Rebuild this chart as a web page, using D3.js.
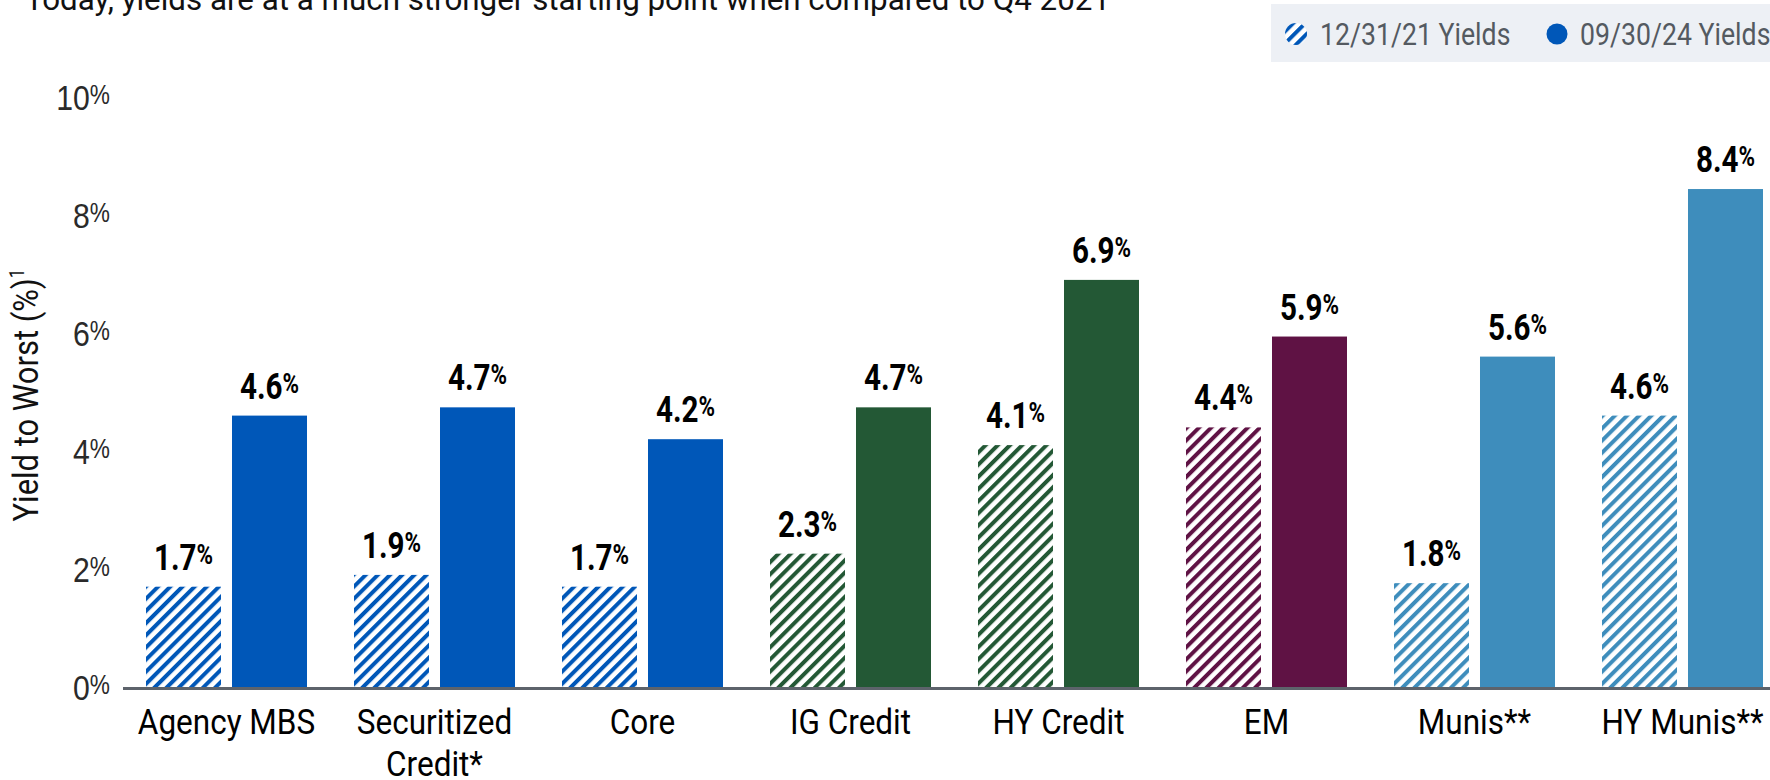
<!DOCTYPE html>
<html>
<head>
<meta charset="utf-8">
<script src="https://cdn.jsdelivr.net/npm/d3@7"></script>
<style>
  html, body { margin: 0; padding: 0; background: #ffffff; }
  svg { display: block; font-family: Roboto, "Noto Sans", sans-serif; }
</style>
</head>
<body>
<svg id="chart" width="1770" height="780"></svg>
<script>
// Yield to worst by sector, end of 2021 vs. end of Q3 2024
const categories = ["Agency MBS", "Securitized Credit*", "Core", "IG Credit", "HY Credit", "EM", "Munis**", "HY Munis**"];
const categoryLines = [["Agency MBS"], ["Securitized", "Credit*"], ["Core"], ["IG Credit"], ["HY Credit"], ["EM"], ["Munis**"], ["HY Munis**"]];
const yields2021 = [1.7, 1.9, 1.7, 2.26, 4.1, 4.4, 1.76, 4.6];
const yields2024 = [4.6, 4.74, 4.2, 4.74, 6.9, 5.94, 5.6, 8.44];
const sectorColors = ["#0057b8", "#0057b8", "#0057b8", "#235835", "#235835", "#5f1244", "#3e8dbc", "#3e8dbc"];
const seriesKeys = ["2021", "2024"];
const legendLabels = ["12/31/21 Yields", "09/30/24 Yields"];
const yTicks = [0, 2, 4, 6, 8, 10];
const titleText = "Today, yields are at a much stronger starting point when compared to Q4 2021";
const yAxisTitle = "Yield to Worst (%)";

const svg = d3.select("#chart");
const defs = svg.append("defs");

// Diagonal stripe patterns, one per colour
const stripePeriod = 8.6;
const uniqueColors = Array.from(new Set(sectorColors));
const patternId = c => "stripe-" + c.slice(1);
uniqueColors.forEach(c => {
  const p = defs.append("pattern")
    .attr("id", patternId(c))
    .attr("patternUnits", "userSpaceOnUse")
    .attr("width", stripePeriod).attr("height", stripePeriod)
    .attr("patternTransform", "rotate(45)");
  p.append("rect").attr("width", stripePeriod).attr("height", stripePeriod).attr("fill", "#ffffff");
  p.append("rect").attr("x", 0).attr("width", 4.0).attr("height", stripePeriod).attr("fill", c);
});

// Scales
const x = d3.scaleBand()
  .domain(categories)
  .range([122.5, 1786.5])
  .paddingInner(47 / 208)
  .paddingOuter(0.113);

const xSub = d3.scaleBand()
  .domain(seriesKeys)
  .range([0, x.bandwidth()])
  .paddingInner(11 / 86)
  .paddingOuter(0);

const y = d3.scaleLinear().domain([0, 10]).range([687, 97]);

// Title (runs off the top edge)
svg.append("text")
  .attr("x", 25).attr("y", 10)
  .attr("font-size", 31)
  .attr("fill", "#111")
  .attr("textLength", 1085)
  .attr("lengthAdjust", "spacingAndGlyphs")
  .text(titleText);

// Legend
const legend = svg.append("g");
legend.append("rect")
  .attr("x", 1271).attr("y", 4).attr("width", 520).attr("height", 58)
  .attr("fill", "#edf0f5");
legend.append("circle")
  .attr("cx", 1296).attr("cy", 34).attr("r", 11)
  .attr("fill", `url(#${patternId(sectorColors[0])})`);
legend.append("circle")
  .attr("cx", 1557).attr("cy", 34).attr("r", 10.5)
  .attr("fill", sectorColors[0]);
[1320, 1580].forEach((lx, i) => {
  legend.append("text")
    .attr("transform", `translate(${lx},45) scale(0.86,1)`)
    .attr("font-size", 31)
    .attr("fill", "#545a61")
    .text(legendLabels[i]);
});

// Y axis tick labels with a small raised percent sign
const yAxis = d3.axisLeft(y).tickValues(yTicks).tickSize(0).tickFormat(d => d);
const yAxisG = svg.append("g").attr("transform", "translate(110,0)").call(yAxis);
yAxisG.select(".domain").remove();
yAxisG.selectAll(".tick text").remove();
yAxisG.selectAll(".tick").each(function(d) {
  const t = d3.select(this).append("text")
    .attr("transform", "translate(0,12.5) scale(0.84,1)")
    .attr("text-anchor", "end")
    .attr("font-size", 36)
    .attr("font-weight", 300)
    .attr("fill", "#2a2a2a");
  t.append("tspan").text(d);
  t.append("tspan").attr("font-size", 27).attr("dy", -6).text("%");
});

// Y axis title
svg.append("text")
  .attr("transform", `translate(38,${395}) rotate(-90) scale(0.86,1)`)
  .attr("text-anchor", "middle")
  .attr("font-size", 36)
  .attr("fill", "#111")
  .call(t => {
    t.append("tspan").text(yAxisTitle);
    t.append("tspan").attr("font-size", 20).attr("dy", -14).text("1");
  });

// Bars
const groups = svg.append("g").selectAll("g")
  .data(categories.map((c, i) => ({ c, i })))
  .join("g")
  .attr("transform", d => `translate(${x(d.c)},0)`);

function barData(d) {
  return [
    { key: "2021", value: yields2021[d.i], fill: `url(#${patternId(sectorColors[d.i])})` },
    { key: "2024", value: yields2024[d.i], fill: sectorColors[d.i] }
  ];
}

groups.selectAll("rect")
  .data(barData)
  .join("rect")
  .attr("x", b => xSub(b.key))
  .attr("width", xSub.bandwidth())
  .attr("y", b => y(b.value))
  .attr("height", b => y(0) - y(b.value))
  .attr("fill", b => b.fill);

// Value labels
groups.selectAll("text.value")
  .data(barData)
  .join("text")
  .attr("class", "value")
  .attr("transform", b => `translate(${xSub(b.key) + xSub.bandwidth() / 2},${y(b.value) - 17}) scale(0.8,1)`)
  .attr("text-anchor", "middle")
  .attr("font-size", 37)
  .attr("font-weight", 700)
  .attr("fill", "#000")
  .each(function(b) {
    const t = d3.select(this);
    t.append("tspan").text(b.value.toFixed(1));
    t.append("tspan").attr("font-size", 28).attr("dy", -6).text("%");
  });

// Baseline
svg.append("line")
  .attr("x1", 123).attr("x2", 1770)
  .attr("y1", 688.5).attr("y2", 688.5)
  .attr("stroke", "#5d636b")
  .attr("stroke-width", 3);

// Category labels
groups.append("text")
  .attr("transform", d => `translate(${x.bandwidth() / 2},734) scale(0.9,1)`)
  .attr("text-anchor", "middle")
  .attr("font-size", 35)
  .attr("fill", "#000")
  .each(function(d) {
    const t = d3.select(this);
    categoryLines[d.i].forEach((line, k) => {
      t.append("tspan").attr("x", 0).attr("dy", k === 0 ? 0 : 42).text(line);
    });
  });
</script>
</body>
</html>
